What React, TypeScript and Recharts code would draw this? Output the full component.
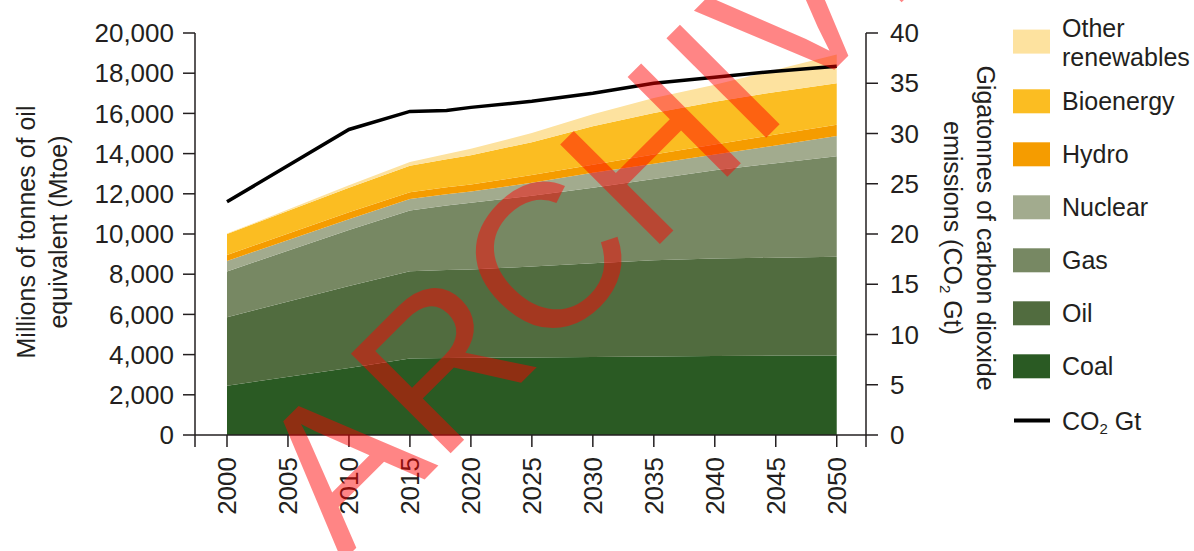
import { ComposedChart, Area, Line, XAxis, YAxis } from "recharts";

// Primary energy demand by source (Mtoe) and CO2 emissions (Gt)
const years = [2000, 2010, 2015, 2018, 2020, 2025, 2030, 2035, 2040, 2045, 2050];
const coal = [2450, 3330, 3800, 3830, 3840, 3860, 3880, 3910, 3930, 3950, 3960];
const oil = [3410, 4080, 4350, 4380, 4400, 4520, 4670, 4780, 4850, 4870, 4910];
const gas = [2280, 2790, 3020, 3210, 3310, 3520, 3750, 4050, 4390, 4700, 5000];
const nuclear = [520, 530, 575, 560, 560, 650, 750, 760, 780, 880, 1000];
const hydro = [300, 350, 330, 340, 350, 380, 400, 450, 500, 550, 570];
const bioenergy = [1040, 1220, 1325, 1400, 1460, 1640, 1910, 2070, 2130, 2120, 2060];
const otherRenewables = [20, 120, 180, 260, 320, 450, 600, 750, 850, 1100, 1430];
const co2 = [23.2, 30.4, 32.2, 32.3, 32.6, 33.2, 34.0, 35.0, 35.6, 36.2, 36.7];

const tickYears = [2000, 2005, 2010, 2015, 2020, 2025, 2030, 2035, 2040, 2045, 2050];
const leftTicks = [0, 2000, 4000, 6000, 8000, 10000, 12000, 14000, 16000, 18000, 20000];
const rightTicks = [0, 5, 10, 15, 20, 25, 30, 35, 40];

const series = [
  { key: "coal", name: "Coal", color: "#2a5a23", values: coal },
  { key: "oil", name: "Oil", color: "#516c3f", values: oil },
  { key: "gas", name: "Gas", color: "#778863", values: gas },
  { key: "nuclear", name: "Nuclear", color: "#a2ab8e", values: nuclear },
  { key: "hydro", name: "Hydro", color: "#f59c00", values: hydro },
  { key: "bio", name: "Bioenergy", color: "#fbbd22", values: bioenergy },
  { key: "other", name: "Other renewables", color: "#fde29f", values: otherRenewables },
];

const data = years.map((year, i) => {
  const row: Record<string, number> = { year, co2: co2[i] };
  series.forEach((s) => (row[s.key] = s.values[i]));
  return row;
});

const FONT = "'Liberation Sans', Arial, Helvetica, sans-serif";
const INK = "#231f20";
const xDomain = [1997.376, 2052.4];
const xTicks = [xDomain[0], ...tickYears, xDomain[1]];

function XTick(props: any) {
  const { x, y, payload } = props;
  if (!tickYears.includes(payload.value)) return <g />;
  return (
    <text
      transform={`translate(${x},${y}) rotate(-90)`}
      textAnchor="end"
      dy="0.36em"
      fill={INK}
      fontSize={26}
      fontFamily={FONT}
    >
      {payload.value}
    </text>
  );
}

function Overlay() {
  // legend rows, top to bottom
  const rows = [...series].reverse();
  return (
    <svg
      width={1194}
      height={551}
      style={{ position: "absolute", left: 0, top: 0, pointerEvents: "none" }}
      fontFamily={FONT}
    >
      {/* axis titles */}
      <text transform="translate(35,232) rotate(-90)" textAnchor="middle" fontSize={25} fill={INK}>
        Millions of tonnes of oil
      </text>
      <text transform="translate(67,232) rotate(-90)" textAnchor="middle" fontSize={25} fill={INK}>
        equivalent (Mtoe)
      </text>
      <text transform="translate(977,228) rotate(90)" textAnchor="middle" fontSize={25} fill={INK}>
        Gigatonnes of carbon dioxide
      </text>
      <text transform="translate(944,228) rotate(90)" textAnchor="middle" fontSize={25} fill={INK}>
        emissions (CO
        <tspan fontSize={15} dy={4}>2</tspan>
        <tspan dy={-4}> Gt)</tspan>
      </text>

      {/* legend */}
      {rows.map((s, i) => {
        const cy = i === 0 ? 41.6 : 101.3 + 53 * (i - 1);
        return (
          <g key={s.key}>
            <rect x={1013} y={cy - 12} width={37} height={24} fill={s.color} />
            {s.name === "Other renewables" ? (
              <text x={1062} y={cy} fontSize={25} fill={INK}>
                <tspan x={1062} dy={-5}>Other</tspan>
                <tspan x={1062} dy={29}>renewables</tspan>
              </text>
            ) : (
              <text x={1062} y={cy} dy="0.36em" fontSize={25} fill={INK}>
                {s.name}
              </text>
            )}
          </g>
        );
      })}
      <line x1={1014} x2={1050} y1={420.6} y2={420.6} stroke="#000" strokeWidth={4} />
      <text x={1062} y={420.6} dy="0.36em" fontSize={25} fill={INK}>
        CO<tspan fontSize={15} dy={4}>2</tspan>
        <tspan dy={-4}> Gt</tspan>
      </text>

      {/* watermark */}
      <text
        transform="translate(342,562) rotate(-45)"
        fontSize={205}
        fill="#ff0000"
        fillOpacity={0.48}
      >
        ARCHIVE
      </text>
    </svg>
  );
}

export default function App() {
  const axisStroke = { stroke: INK, strokeWidth: 1.5 };
  return (
    <div style={{ position: "relative", width: 1194, height: 551, fontFamily: FONT }}>
      <style>{"body{margin:0}"}</style>
      <ComposedChart width={1194} height={551} data={data} margin={{ top: 33, right: 0, bottom: 0, left: 0 }}>
        <XAxis
          dataKey="year"
          type="number"
          domain={xDomain}
          ticks={xTicks}
          interval={0}
          height={116}
          tickSize={12}
          tickMargin={10}
          axisLine={axisStroke}
          tickLine={axisStroke}
          tick={<XTick />}
        />
        <YAxis
          yAxisId="left"
          orientation="left"
          width={195}
          domain={[0, 20000]}
          ticks={leftTicks}
          interval={0}
          tickSize={12}
          tickMargin={9}
          axisLine={axisStroke}
          tickLine={axisStroke}
          tickFormatter={(v: number) => v.toLocaleString("en-US")}
          tick={{ fill: INK, fontSize: 26, fontFamily: FONT }}
        />
        <YAxis
          yAxisId="right"
          orientation="right"
          width={328}
          domain={[0, 40]}
          ticks={rightTicks}
          interval={0}
          tickSize={12}
          tickMargin={12}
          axisLine={axisStroke}
          tickLine={axisStroke}
          tick={{ fill: INK, fontSize: 26, fontFamily: FONT }}
        />
        {series.map((s) => (
          <Area
            key={s.key}
            yAxisId="left"
            type="linear"
            dataKey={s.key}
            name={s.name}
            stackId="energy"
            stroke="none"
            fill={s.color}
            fillOpacity={1}
            isAnimationActive={false}
          />
        ))}
        <Line
          yAxisId="right"
          type="linear"
          dataKey="co2"
          name="CO2 Gt"
          stroke="#000"
          strokeWidth={3.5}
          dot={false}
          isAnimationActive={false}
        />
      </ComposedChart>
      <Overlay />
    </div>
  );
}
